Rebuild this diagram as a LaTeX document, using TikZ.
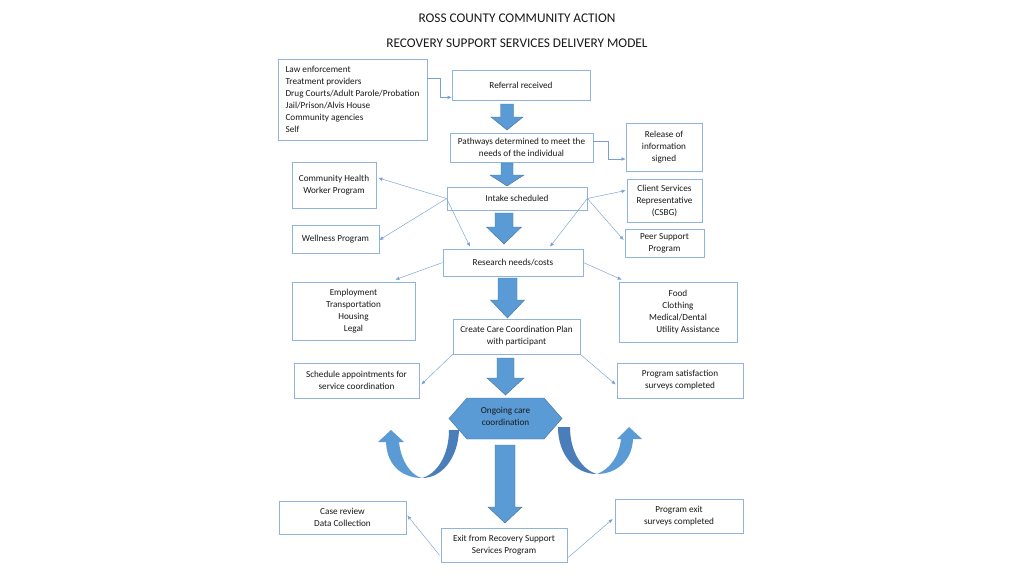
\documentclass[tikz,border=0pt]{standalone}
\usepackage{fontspec}
\setmainfont{Carlito}
\usetikzlibrary{calc,arrows.meta}
\definecolor{boxc}{RGB}{143,179,222}
\definecolor{linec}{RGB}{120,160,210}
\definecolor{arrf}{RGB}{91,155,213}
\definecolor{arrd}{RGB}{65,113,156}
\definecolor{arrdark}{RGB}{74,126,187}
\definecolor{txt}{RGB}{25,25,25}
\newcommand\downblk[6]{%
  \path[blk] ({#1-#5},#2) -- ({#1+#5},#2) -- ({#1+#5},#3) -- ({#1+#6},#3) -- (#1,#4) -- ({#1-#6},#3) -- ({#1-#5},#3) -- cycle;}
\begin{document}
\begin{tikzpicture}[x=1pt,y=-1pt,
  box/.style={draw=boxc, line width=0.7pt, inner sep=0pt, align=center, text=txt, font=\fontsize{9.2}{12}\selectfont},
  conn/.style={draw=linec, line width=0.45pt, -{Latex[length=4pt,width=3.5pt]}},
  blk/.style={fill=arrf, draw=arrd, line width=0.4pt},
  ttl/.style={text=txt, font=\fontsize{13.3}{15}\selectfont},
  ]
\useasboundingbox (0,0) rectangle (1024,576);
\fill[white] (0,0) rectangle (1024,576);

\node[ttl] (t1) at (517,18) {ROSS COUNTY COMMUNITY ACTION};
\node[ttl] (t2) at (517,43) {RECOVERY SUPPORT SERVICES DELIVERY MODEL};

% boxes
\node[box, minimum width=149, minimum height=81, align=left] (src) at (352.5,99.5)
  {Law enforcement\\Treatment providers\\Drug Courts/Adult Parole/Probation\\Jail/Prison/Alvis House\\Community agencies\\Self};
\node[box, minimum width=138, minimum height=30] (ref) at (521,85) {Referral received};
\node[box, minimum width=143, minimum height=29] (path) at (521.5,147.5) {Pathways determined to meet the\\needs of the individual};
\node[box, minimum width=76, minimum height=48] (rel) at (664,147) {Release of\\information\\signed};
\node[box, minimum width=140, minimum height=23] (intake) at (517,198.5) {Intake scheduled};
\node[box, minimum width=84, minimum height=46] (chw) at (334,185) {Community Health\\Worker Program};
\node[box, minimum width=87, minimum height=28] (wel) at (335.5,239) {Wellness Program};
\node[box, minimum width=75, minimum height=43] (cs) at (664.5,200.5) {Client Services\\Representative\\(CSBG)};
\node[box, minimum width=79, minimum height=28] (peer) at (664.5,243) {Peer Support\\Program};
\node[box, minimum width=140, minimum height=27] (res) at (513,262.5) {Research needs/costs};
\node[box, minimum width=123, minimum height=58] (emp) at (353.5,311) {Employment\\Transportation\\Housing\\Legal};
\node[box, minimum width=118, minimum height=60] (food) at (678,312) {Food\\Clothing\\Medical/Dental\\\hspace*{20pt}Utility Assistance};
\node[box, minimum width=127, minimum height=35] (create) at (516.5,336.5) {Create Care Coordination Plan\\with participant};
\node[box, minimum width=125, minimum height=35] (sched) at (356.5,380.5) {Schedule appointments for\\service coordination};
\node[box, minimum width=126, minimum height=35] (sat) at (680,380.5) {Program satisfaction\\surveys completed};
\node[box, minimum width=127, minimum height=33] (case) at (342.5,517.5) {Case review\\Data Collection};
\node[box, minimum width=126, minimum height=34] (exit) at (504,545) {Exit from Recovery Support\\Services Program};
\node[box, minimum width=128, minimum height=34] (pexit) at (679,516) {Program exit\\surveys completed};

% hexagon
\path[fill=arrf, draw=arrd, line width=0.4pt] (449,418.5) -- (467,398) -- (544,398) -- (562,418.5) -- (544,439) -- (467,439) -- cycle;
\node[text=txt, font=\fontsize{9.2}{12}\selectfont, align=center] (ong) at (505.5,416) {Ongoing care\\coordination};

% block arrows
\downblk{507}{104}{117}{130}{6.5}{16}
\downblk{507}{163}{175}{186}{6}{17}
\downblk{504}{213}{227}{244}{9}{17.5}
\downblk{507.5}{278}{300}{318}{9.5}{17}
\downblk{505.5}{358}{378}{395}{8.5}{18.5}
\downblk{505}{445}{507}{523}{10}{17}

% curved arrows (left)
\path[fill=arrf] (386,442) .. controls (387,468) and (405,478) .. (422,478)
   .. controls (412,476) and (401,462) .. (399,442) -- (404,442) -- (391,430) -- (378,442) -- cycle;
\path[fill=arrdark] (422,478) .. controls (442,478) and (458,458) .. (459,430) -- (449,430)
   .. controls (449,455) and (437,474) .. (422,478) -- cycle;
% curved arrows (right)
\path[fill=arrdark] (558,427) .. controls (558,455) and (575,474) .. (597,474)
   .. controls (582,470) and (570,452) .. (570,427) -- cycle;
\path[fill=arrf] (597,474) .. controls (615,474) and (632,462) .. (633,439) -- (642,439) -- (629,427) -- (617,439) -- (621,439)
   .. controls (619,458) and (608,470) .. (597,474) -- cycle;

% connectors
\draw[conn] ($(src.north east)+(0,20)$) -- ++(13,0) |- ($(ref.south west)+(0,-3)$);
\draw[conn] ($(path.east)+(0,-6.5)$) -- ++(15,0) |- ($(rel.west)+(0,12)$);
\draw[conn] (intake.west) -- ($(chw.east)+(2,-7)$);
\draw[conn] (intake.west) -- ($(wel.east)+(0,1)$);
\draw[conn] (intake.west) -- ($(res.north)+(-43,-2)$);
\draw[conn] (intake.east) -- ($(cs.west)+(-1,-10)$);
\draw[conn] (intake.east) -- ($(peer.west)+(-1,-3)$);
\draw[conn] (intake.east) -- ($(res.north)+(37,-2)$);
\draw[conn] (res.west) -- ($(emp.north east)+(-20,-2)$);
\draw[conn] (res.east) -- ($(food.north west)+(3,-2)$);
\draw[conn] (create.south west) -- ($(sched.east)+(2,4)$);
\draw[conn] (create.south east) -- ($(sat.west)+(-1,4)$);
\draw[conn] ($(exit.south west)+(-1,-7)$) -- ($(case.east)+(1,-2)$);
\draw[conn] ($(exit.south east)+(1,-5)$) -- ($(pexit.west)+(-2,3)$);
\end{tikzpicture}
\end{document}
